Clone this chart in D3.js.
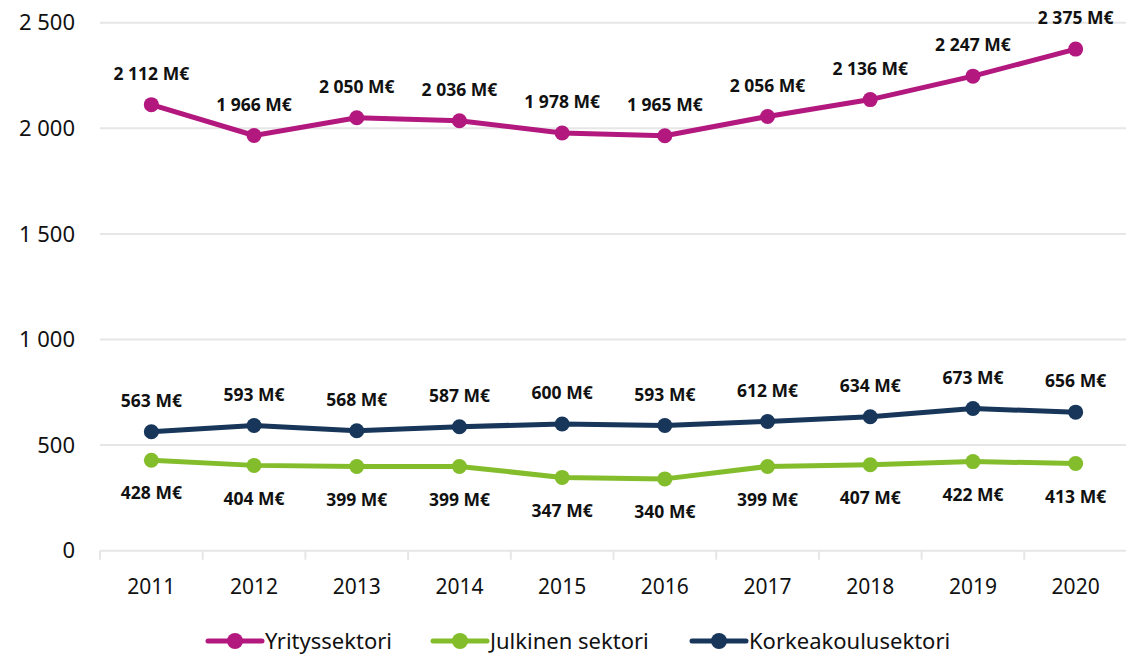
<!DOCTYPE html>
<html><head><meta charset="utf-8">
<script src="https://cdn.jsdelivr.net/npm/d3@7"></script>
<style>body{margin:0;background:#fff}svg{display:block}text{font-family:"Noto Sans",sans-serif}</style>
</head><body><svg id="c" width="1126" height="657"></svg>
<script>
const years = ["2011","2012","2013","2014","2015","2016","2017","2018","2019","2020"];
const yritys = [2112,1966,2050,2036,1978,1965,2056,2136,2247,2375];
const julkinen = [428,404,399,399,347,340,399,407,422,413];
const korkea = [563,593,568,587,600,593,612,634,673,656];
const yTicks = [0,500,1000,1500,2000,2500];
const seriesNames = ["Yrityssektori","Julkinen sektori","Korkeakoulusektori"];
const colors = ["#b3187f","#84bd2b","#17365a"];

const svg = d3.select("#c");
const x = d3.scaleBand().domain(years).range([100,1127]);
const y = d3.scaleLinear().domain([0,2500]).range([550.7,22.7]);
const fmt = v => d3.format(",")(v).replace(/,/g," ");

// gridlines
svg.append("g").selectAll("line").data(yTicks.filter(d=>d>0)).join("line")
  .attr("x1",100).attr("x2",1126).attr("y1",d=>y(d)).attr("y2",d=>y(d))
  .attr("stroke","#e6e6e6").attr("stroke-width",2);
svg.append("g").selectAll("text").data(yTicks).join("text")
  .attr("x",75).attr("y",d=>y(d)).attr("dy","0.35em").attr("text-anchor","end")
  .attr("font-size",22).attr("fill","#111").text(d=>fmt(d));

// x axis
svg.append("line").attr("x1",100).attr("x2",1126).attr("y1",y(0)).attr("y2",y(0))
  .attr("stroke","#e6e6e6").attr("stroke-width",2);
svg.append("g").selectAll("line").data(years).join("line")
  .attr("x1",d=>x(d)).attr("x2",d=>x(d)).attr("y1",y(0)).attr("y2",y(0)+9)
  .attr("stroke","#e6e6e6").attr("stroke-width",2);
svg.append("g").selectAll("text").data(years).join("text")
  .attr("x",d=>x(d)+x.bandwidth()/2).attr("y",587).attr("dy","0.35em").attr("text-anchor","middle")
  .attr("font-size",21).attr("fill","#111").text(d=>d);

const data = [yritys, julkinen, korkea];
const offsets = [-31,33,-31];
const line = d3.line().x((d,i)=>x(years[i])+x.bandwidth()/2).y(d=>y(d));
data.forEach((vals,k)=>{
  const g = svg.append("g");
  g.append("path").datum(vals).attr("d",line).attr("fill","none")
    .attr("stroke",colors[k]).attr("stroke-width",5).attr("stroke-linejoin","round");
  g.selectAll("circle").data(vals).join("circle")
    .attr("cx",(d,i)=>x(years[i])+x.bandwidth()/2).attr("cy",d=>y(d)).attr("r",7.5)
    .attr("fill",colors[k]);
  g.selectAll("text").data(vals).join("text")
    .attr("x",(d,i)=>x(years[i])+x.bandwidth()/2).attr("y",d=>y(d)+offsets[k])
    .attr("dy","0.35em").attr("text-anchor","middle")
    .attr("font-size",17.5).attr("font-weight","bold").attr("fill","#111")
    .text(d=>fmt(d)+" M€");
});

// legend
const legX = [208,433,692];
const lg = svg.append("g");
seriesNames.forEach((n,k)=>{
  lg.append("line").attr("x1",legX[k]).attr("x2",legX[k]+54).attr("y1",641).attr("y2",641)
    .attr("stroke",colors[k]).attr("stroke-width",5).attr("stroke-linecap","round");
  lg.append("circle").attr("cx",legX[k]+27).attr("cy",641).attr("r",8).attr("fill",colors[k]);
  lg.append("text").attr("x",legX[k]+57).attr("y",641).attr("dy","0.35em")
    .attr("font-size",22).attr("fill","#111").text(n);
});
</script></body></html>
